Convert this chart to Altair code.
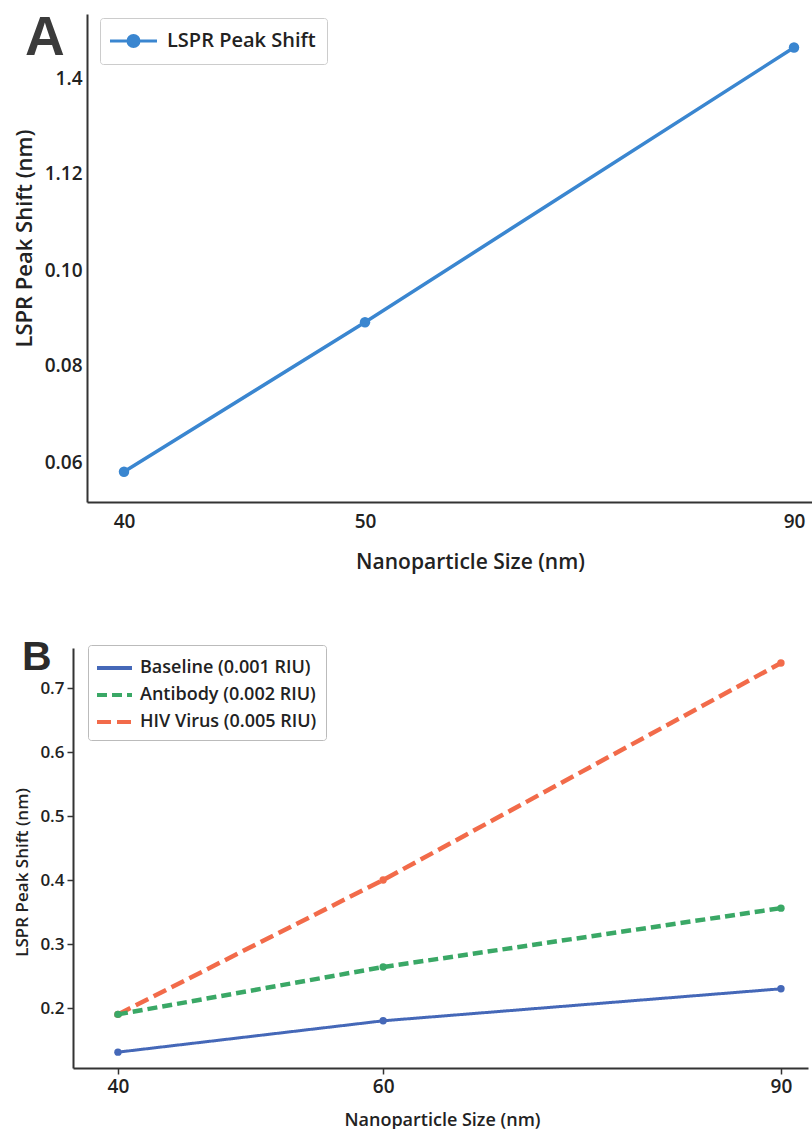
import altair as alt
import pandas as pd

# ---------------- data ----------------
# Panel A
SIZES_A = [40, 50, 90]
SHIFT_A = [0.058, 0.089, 1.49]
SERIES_A = "LSPR Peak Shift"
A_X_TICKS = [40, 50, 90]
A_Y_TICKS = [0.06, 0.08, 0.10, 1.12, 1.4]
A_Y_LABELS = ["0.06", "0.08", "0.10", "1.12", "1.4"]

# Panel B
SIZES_B = [40, 60, 90]
SERIES_B = ["Baseline (0.001 RIU)", "Antibody (0.002 RIU)", "HIV Virus (0.005 RIU)"]
BASELINE = [0.131, 0.18, 0.23]
ANTIBODY = [0.19, 0.264, 0.356]
HIV = [0.19, 0.40, 0.739]
B_X_TICKS = [40, 60, 90]
B_Y_TICKS = [0.2, 0.3, 0.4, 0.5, 0.6, 0.7]

# ---------------- styling ----------------
FONT = "Open Sans"
TXT = "#222222"
AX = "#333333"
BLUE_A = "#3a86d0"
COLORS_B = ["#4568b8", "#3aa866", "#f26b4a"]
DASHES_B = [[1, 0], [10, 5], [14, 6]]
WIDTHS_B = [3, 4.5, 4.5]

df_a = pd.DataFrame({"size": SIZES_A, "shift": SHIFT_A, "seriesA": [SERIES_A] * len(SIZES_A)})
rows = []
for name, vals in zip(SERIES_B, [BASELINE, ANTIBODY, HIV]):
    for s, v in zip(SIZES_B, vals):
        rows.append({"size": s, "shift": v, "seriesB": name})
df_b = pd.DataFrame(rows)

# ---------------- panel A ----------------
label_expr = "".join(
    f"abs(datum.value - {v}) < 1e-9 ? '{l}' : " for v, l in zip(A_Y_TICKS, A_Y_LABELS)
) + "datum.label"

xA = alt.X(
    "size:Q",
    scale=alt.Scale(domain=[38.46, 40, 50, 90, 91.68], range=[14, 51, 292, 721, 739], nice=False, zero=False),
    axis=alt.Axis(
        values=A_X_TICKS, format="d", ticks=False, tickSize=0, grid=False,
        domainColor=AX, domainWidth=2, labelPadding=10,
        labelFont=FONT, labelFontSize=19, labelFontWeight=600, labelColor=TXT,
        title="Nanoparticle Size (nm)", titleFont=FONT, titleFontSize=21, titleFontWeight=600,
        titleColor=TXT, titleX=397, titleY=66, titleBaseline="alphabetic", titleAlign="center",
    ),
)
yA = alt.Y(
    "shift:Q",
    scale=alt.Scale(
        domain=[0.0518, 0.06, 0.08, 0.10, 1.12, 1.4, 1.589],
        range=[488, 448, 351, 256, 159, 64, 0], nice=False, zero=False,
    ),
    axis=alt.Axis(
        values=A_Y_TICKS, labelExpr=label_expr, offset=-14, ticks=False, tickSize=0, grid=False,
        domainColor=AX, domainWidth=2, labelPadding=5,
        labelFont=FONT, labelFontSize=19, labelFontWeight=600, labelColor=TXT,
        title="LSPR Peak Shift (nm)", titleFont=FONT, titleFontSize=22, titleFontWeight=600,
        titleColor=TXT, titleX=-56, titleY=224, titleAngle=270, titleBaseline="alphabetic",
        titleAlign="center",
    ),
)
legA = alt.Legend(
    orient="none", legendX=27, legendY=4, title=None,
    symbolType="M-1.238,0L3.238,0M1.524,0A0.524,0.524,0,1,1,0.476,0A0.524,0.524,0,1,1,1.524,0Z",
    symbolSize=441, symbolStrokeWidth=3, symbolFillColor=BLUE_A, symbolStrokeColor=BLUE_A,
    labelFont=FONT, labelFontSize=20, labelFontWeight=600, labelColor=TXT, labelOffset=32,
    labelLimit=400, padding=11, strokeColor="#cccccc", fillColor="white", cornerRadius=3,
)
colorA = alt.Color("seriesA:N", scale=alt.Scale(domain=[SERIES_A], range=[BLUE_A]), legend=legA)

baseA = alt.Chart(df_a)
lineA = baseA.mark_line(strokeWidth=3.5).encode(x=xA, y=yA, color=colorA)
ptsA = baseA.mark_point(filled=True, size=110, opacity=1).encode(x=xA, y=yA, color=colorA)
letterA = alt.Chart(pd.DataFrame({"t": ["A"]})).mark_text(
    font="Liberation Sans", fontSize=55, fontWeight="bold", color="#3b3b3b",
    align="left", baseline="alphabetic",
).encode(text="t:N", x=alt.value(-48), y=alt.value(41))

panelA = alt.layer(lineA, ptsA, letterA).properties(width=739, height=488)

# ---------------- panel B ----------------
xB = alt.X(
    "size:Q",
    scale=alt.Scale(domain=[36.61, 92.04], nice=False, zero=False),
    axis=alt.Axis(
        values=B_X_TICKS, format="d", ticks=True, tickSize=6, tickColor=AX, tickWidth=1.5, grid=False,
        domainColor=AX, domainWidth=2, labelPadding=3,
        labelFont=FONT, labelFontSize=19, labelFontWeight=600, labelColor=TXT,
        title="Nanoparticle Size (nm)", titleFont=FONT, titleFontSize=18, titleFontWeight=600,
        titleColor=TXT, titleX=369, titleY=57, titleBaseline="alphabetic", titleAlign="center",
    ),
)
yB = alt.Y(
    "shift:Q",
    scale=alt.Scale(domain=[0.10625, 0.7625], nice=False, zero=False),
    axis=alt.Axis(
        values=B_Y_TICKS, format=".1f", ticks=True, tickSize=6, tickColor=AX, tickWidth=1.5, grid=False,
        domainColor=AX, domainWidth=2, labelPadding=3,
        labelFont=FONT, labelFontSize=17, labelFontWeight=600, labelColor=TXT,
        title="LSPR Peak Shift (nm)", titleFont=FONT, titleFontSize=17, titleFontWeight=600,
        titleColor=TXT, titleX=-46, titleY=224, titleAngle=270, titleBaseline="alphabetic",
        titleAlign="center",
    ),
)
legB = alt.Legend(
    orient="none", legendX=15, legendY=-3, title=None,
    symbolType="M-1.1667,0L1.75,0", symbolSize=576, symbolStrokeWidth=4,
    labelFont=FONT, labelFontSize=18, labelFontWeight=600, labelColor=TXT, labelOffset=15,
    labelLimit=400, padding=9, rowPadding=4, strokeColor="#bbbbbb", fillColor="white", cornerRadius=3,
)
colorB = alt.Color("seriesB:N", scale=alt.Scale(domain=SERIES_B, range=COLORS_B), legend=legB)
dashB = alt.StrokeDash("seriesB:N", scale=alt.Scale(domain=SERIES_B, range=DASHES_B), legend=legB)

layersB = []
for name, w in list(zip(SERIES_B, WIDTHS_B))[::-1]:
    base = alt.Chart(df_b).transform_filter(alt.datum.seriesB == name)
    layersB.append(base.mark_line(strokeWidth=w).encode(x=xB, y=yB, color=colorB, strokeDash=dashB))
    layersB.append(base.mark_point(filled=True, size=55, opacity=1).encode(x=xB, y=yB, color=colorB))
letterB = alt.Chart(pd.DataFrame({"t": ["B"]})).mark_text(
    font="Liberation Sans", fontSize=41, fontWeight="bold", color="#2b2b2b",
    align="left", baseline="alphabetic",
).encode(text="t:N", x=alt.value(-51), y=alt.value(22))
layersB.append(letterB)

panelB = alt.layer(*layersB).properties(width=735, height=420)

chart = (
    alt.vconcat(panelA, panelB, spacing=146, bounds="flush")
    .resolve_scale(color="independent", strokeDash="independent")
    .resolve_legend(color="independent", strokeDash="independent")
    .properties(padding={"left": 13, "top": 11, "right": 0, "bottom": 0}, background="white")
    .configure_view(strokeWidth=0)
)

chart.save("out.html", embed_options={"renderer": "svg", "actions": False})
